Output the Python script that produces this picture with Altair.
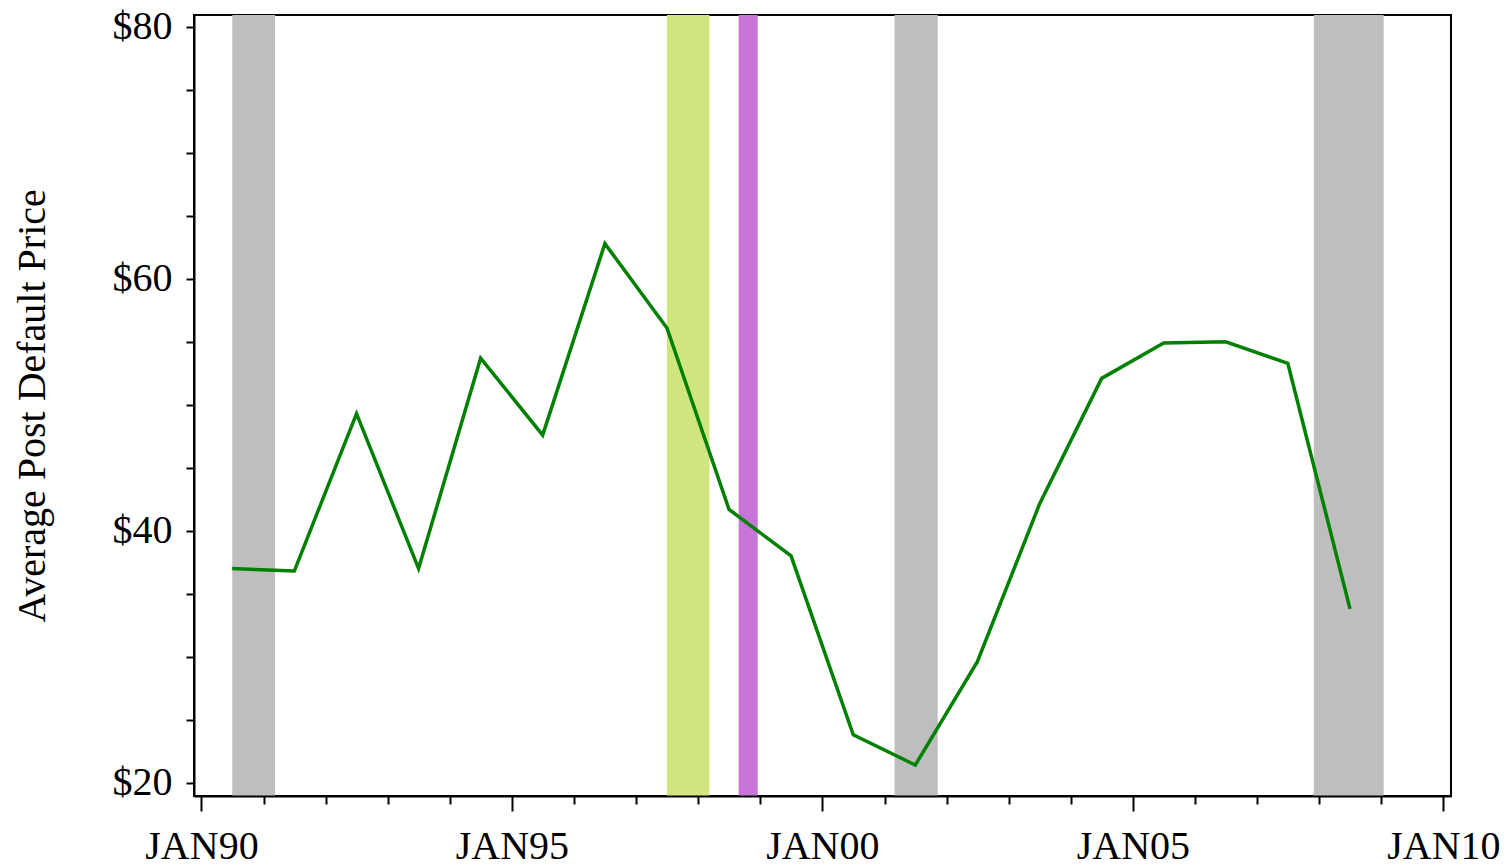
import altair as alt
import pandas as pd

# Average post-default price, sampled mid-year
years = list(range(1990, 2009))
prices = [37.0, 36.8, 49.3, 37.0, 53.7, 47.6, 62.8, 56.1, 41.7, 38.0,
          23.8, 21.4, 29.6, 42.1, 52.1, 54.9, 55.0, 53.3, 33.8]

# Shaded periods (recessions in gray, crisis episodes in colour)
band_start = ["1990-07-01", "1997-07-01", "1998-08-27", "2001-03-01", "2007-12-01"]
band_end = ["1991-03-10", "1998-03-08", "1998-12-17", "2001-11-10", "2009-01-15"]
band_color = ["#BEBEBE", "#D0E57E", "#C874D8", "#BEBEBE", "#BEBEBE"]

tick_years = list(range(1990, 2011))
y_ticks = list(range(20, 81, 5))

FONT = "Liberation Serif"
W, H = 1257, 781

line_df = pd.DataFrame({
    "date": [f"{y}-07-01T00:00:00" for y in years],
    "price": prices,
})
band_df = pd.DataFrame({
    "start": [s + "T00:00:00" for s in band_start],
    "end": [e + "T00:00:00" for e in band_end],
    "color": band_color,
})

x_scale = alt.Scale(domain=[alt.DateTime(year=1989, month=11, date=18),
                            alt.DateTime(year=2010, month=2, date=15)])
y_scale = alt.Scale(domain=[18.94, 80.95], nice=False, zero=False)

x_axis = alt.Axis(
    values=[alt.DateTime(year=y, month=1, date=1) for y in tick_years],
    labelExpr="year(datum.value) % 5 === 0 ? 'JAN' + timeFormat(datum.value, '%y') : ''",
    title=None, grid=False, zindex=1,
    domainColor="black", domainWidth=2,
    tickColor="black", tickWidth=2,
    tickSize={"condition": {"test": "year(datum.value) % 5 === 0", "value": 15}, "value": 8},
    labelFont=FONT, labelFontSize=40, labelColor="black",
    labelPadding=15, labelOverlap=False, labelFlush=False,
)
y_axis = alt.Axis(
    values=y_ticks,
    labelExpr="datum.value % 20 === 0 ? '$' + datum.value : ''",
    title="Average Post Default Price", grid=False, zindex=1,
    domainColor="black", domainWidth=2,
    tickColor="black", tickWidth=2, tickSize=8,
    labelFont=FONT, labelFontSize=40, labelColor="black",
    labelPadding=14, labelOverlap=False, labelFlush=False,
    titleFont=FONT, titleFontSize=40, titleFontWeight="normal",
    titleColor="black", titlePadding=60,
)

bands = alt.Chart(band_df).mark_rect().encode(
    x=alt.X("start:T", scale=x_scale, axis=x_axis),
    x2="end:T",
    y=alt.value(0),
    y2=alt.value(H),
    color=alt.Color("color:N", scale=None),
)

line = alt.Chart(line_df).mark_line(color="#008000", strokeWidth=3.5).encode(
    x=alt.X("date:T", scale=x_scale, axis=x_axis),
    y=alt.Y("price:Q", scale=y_scale, axis=y_axis),
)

chart = (
    alt.layer(bands, line)
    .properties(
        width=W, height=H,
        autosize=alt.AutoSizeParams(type="none"),
        padding={"left": 194, "top": 15, "right": 58, "bottom": 71},
        background="white",
    )
    .configure_view(stroke="black", strokeWidth=2)
)

chart.save("out.html", embed_options={"renderer": "svg", "actions": False})
